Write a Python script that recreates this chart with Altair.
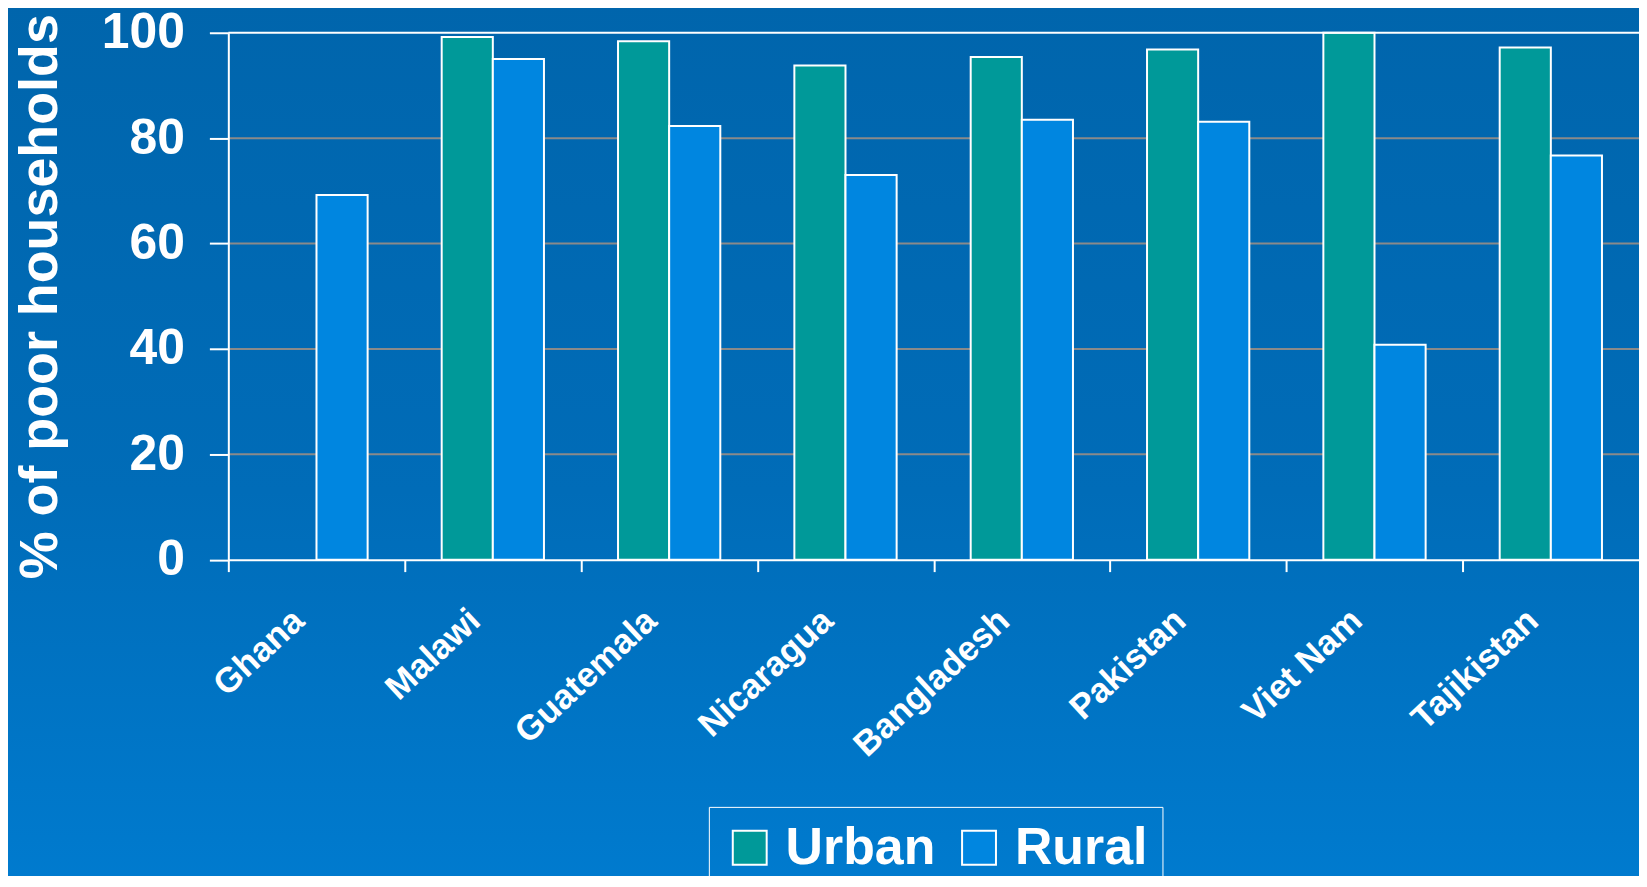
import altair as alt
import pandas as pd

countries = ["Ghana", "Malawi", "Guatemala", "Nicaragua", "Bangladesh", "Pakistan", "Viet Nam", "Tajikistan"]
urban = [None, 99.2, 98.4, 93.8, 95.4, 96.8, 100.0, 97.2]
rural = [69.2, 95.0, 82.3, 73.0, 83.5, 83.1, 40.8, 76.7]
series = ["Urban", "Rural"]
series_colors = ["#009999", "#0086E0"]
y_ticks = [0, 20, 40, 60, 80, 100]

rows = []
for c, u, r in zip(countries, urban, rural):
    rows.append({"country": c, "type": "Urban", "value": u})
    rows.append({"country": c, "type": "Rural", "value": r})
df = pd.DataFrame(rows)
grid_df = pd.DataFrame({"value": y_ticks[1:-1]})
top_df = pd.DataFrame({"value": y_ticks[-1:]})

FONT = "Liberation Sans"
W, H = 1415, 528.5
STEP = W / len(countries)

y_scale = alt.Scale(domain=[0, 100], nice=False)
y_axis = alt.Axis(
    title="% of poor households", titleFont=FONT, titleFontWeight="bold",
    titleFontSize=54, titleColor="white", titlePadding=34,
    values=y_ticks, labelFont=FONT, labelFontWeight="bold", labelFontSize=50,
    labelColor="white", labelPadding=25, tickColor="white", tickWidth=2,
    tickSize=19, domainColor="white", domainWidth=2, grid=False, zindex=1,
)

bg = alt.Chart(alt.Data(values=[{"a": 1}])).mark_rect(
    fill=alt.Gradient(
        gradient="linear",
        stops=[alt.GradientStop(color="#0065AC", offset=0),
               alt.GradientStop(color="#006CB8", offset=0.55),
               alt.GradientStop(color="#007BCF", offset=1)],
        x1=0, x2=0, y1=0, y2=1,
    )
).encode(x=alt.value(-230), x2=alt.value(W + 20), y=alt.value(-30), y2=alt.value(860))

grid = alt.Chart(grid_df).mark_rule(color="#8A8A8A", strokeWidth=2).encode(
    y=alt.Y("value:Q", scale=y_scale, axis=y_axis)
)

bars = alt.Chart(df).mark_bar(stroke="white", strokeWidth=2).encode(
    x=alt.X(
        "country:N",
        sort=countries,
        scale=alt.Scale(paddingInner=0.42, paddingOuter=0.21),
        axis=alt.Axis(
            title=None, labelAngle=-43, labelFont=FONT, labelFontWeight="bold",
            labelFontSize=35, labelColor="white", labelPadding=31,
            labelOffset=STEP / 2 - 30,
            tickOffset=-STEP / 2, tickColor="white", tickWidth=2, tickSize=12,
            domainColor="white", domainWidth=2, zindex=1, labelLimit=400,
        ),
    ),
    xOffset=alt.XOffset("type:N", sort=series, scale=alt.Scale(domain=series)),
    y=alt.Y("value:Q", scale=y_scale, axis=y_axis),
    color=alt.Color(
        "type:N",
        scale=alt.Scale(domain=series, range=series_colors),
        legend=alt.Legend(
            title=None, orient="none", legendX=482, legendY=776.5,
            direction="horizontal", symbolType="square", symbolSize=1156,
            symbolStrokeColor="white", symbolStrokeWidth=2, symbolOpacity=1,
            labelFont=FONT, labelFontWeight="bold", labelFontSize=52,
            labelColor="white", labelOffset=10, labelLimit=400,
            columnPadding=17, padding=15, strokeColor="white",
            labelBaseline="middle",
        ),
    ),
)

top = alt.Chart(top_df).mark_rule(color="white", strokeWidth=2).encode(
    y=alt.Y("value:Q", scale=y_scale, axis=y_axis)
)

chart = alt.layer(bg, grid, bars, top).properties(
    width=W, height=H,
    autosize=alt.AutoSizeParams(type="none"),
    padding={"left": 221, "top": 23.5, "right": 0, "bottom": 316},
    background="#0070BF",
).configure_view(strokeWidth=0)

chart.save("out.html", embed_options={"renderer": "svg", "actions": False})
